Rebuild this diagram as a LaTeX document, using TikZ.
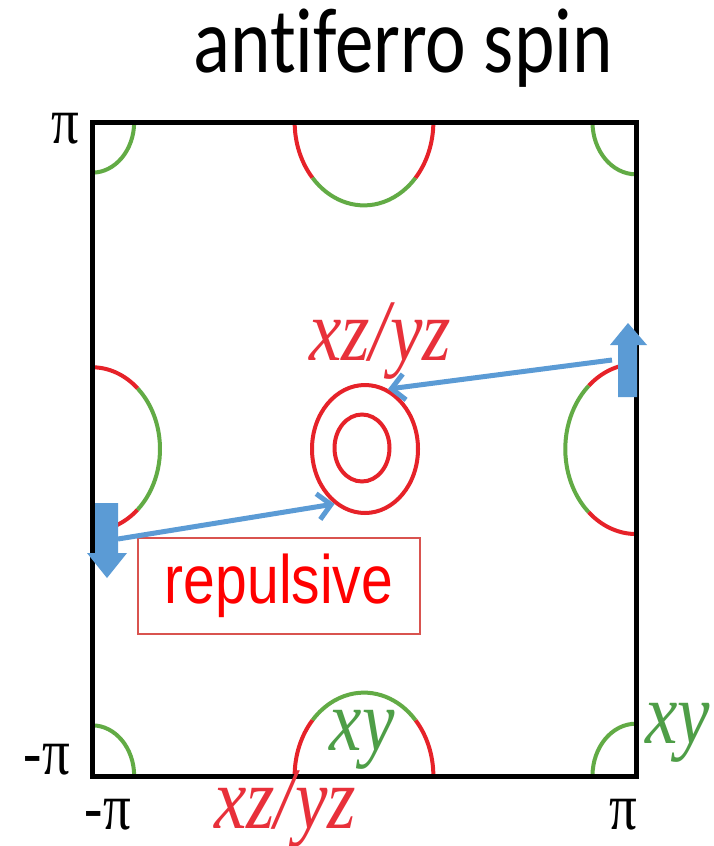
\documentclass[tikz,border=0pt]{standalone}
\usepackage{fontspec}
\setmainfont{Liberation Serif}
\newfontfamily\titlefont{Carlito}[Ligatures=NoCommon]
\newfontfamily\repfont{Liberation Sans}
\usetikzlibrary{arrows.meta,shapes.geometric}
\definecolor{bandred}{HTML}{E62229}
\definecolor{bandgreen}{HTML}{62AB45}
\definecolor{spinblue}{HTML}{5B9BD5}
\definecolor{boxred}{HTML}{D9534F}
\definecolor{labred}{HTML}{E8303A}
\definecolor{labgreen}{HTML}{4E9E47}
\newcommand{\vstretch}[1]{\scalebox{1}[1.2]{#1}}
\tikzset{
  bzline/.style  = {line width=5pt, draw=black},
  band/.style    = {line width=4pt},
  pocket/.style  = {draw=bandred, ellipse, line width=4pt, inner sep=0pt},
  spin/.style    = {fill=spinblue, draw=none},
  link/.style    = {-{Straight Barb[length=13pt,width=26pt]}, line width=5pt, draw=spinblue},
  pilbl/.style   = {font=\fontsize{55}{58}\selectfont, inner sep=0pt},
  orblbl/.style  = {font=\fontsize{73}{76}\selectfont\itshape, inner sep=0pt},
  replbl/.style  = {draw=boxred, line width=1.5pt, text=red, font=\repfont\fontsize{57}{60}\selectfont,
                    minimum width=282pt, minimum height=96pt, inner sep=0pt},
}
\begin{document}
\begin{tikzpicture}[x=1pt, y=-1pt]
  \useasboundingbox[fill=white] (0,0) rectangle (713,846);

  % title
  \node[anchor=base west, font=\titlefont\fontsize{77}{80}\selectfont] (title) at (190,72) {\vstretch{ant\kern0pt iferro spin}};

  % Brillouin zone and Fermi pockets
  \begin{scope}[shift={(364,449)}, x=272pt, y=327pt]
    \foreach \cx/\cy/\a/\b/\r/\col in {
      0/1/180/222/0.255/bandred, 0/1/222/318/0.255/bandgreen, 0/1/318/360/0.255/bandred,
      0/-1/0/42/0.255/bandred, 0/-1/42/138/0.255/bandgreen, 0/-1/138/180/0.255/bandred,
      -1/0/-90/-48/0.25/bandred, -1/0/-48/48/0.25/bandgreen, -1/0/48/90/0.25/bandred,
      1/0/90/132/0.26/bandred, 1/0/132/228/0.26/bandgreen, 1/0/228/270/0.26/bandred,
      -1/1/270/360/0.155/bandgreen, 1/1/180/270/0.16/bandgreen,
      -1/-1/0/90/0.155/bandgreen, 1/-1/90/180/0.16/bandgreen}
      \draw[band, draw=\col] (\cx,\cy) ++(\a:\r) arc[start angle=\a, end angle=\b, radius=\r];
    \draw[bzline] (-1,-1) rectangle (1,1);
  \end{scope}

  % hole pockets at the zone centre
  \node[pocket, minimum width=106pt, minimum height=128pt] (ring) at (365,449) {};
  \node[pocket, minimum width=55pt, minimum height=67pt] (core) at (362,448) {};

  % axis labels
  \node[pilbl] (ymax) at (65,129) {\vstretch{π}};
  \node[pilbl] (ymin) at (47,760) {\vstretch{-π}};
  \node[pilbl] (xmin) at (108,815) {\vstretch{-π}};
  \node[pilbl] (xmax) at (623,815) {\vstretch{π}};

  % orbital labels
  \node[orblbl, text=labred, anchor=base] (xzTop) at (380,360) {\vstretch{xz/yz}};
  \node[orblbl, text=labred, anchor=base] (xzBot) at (285,828) {\vstretch{xz/yz}};
  \node[orblbl, text=labgreen, anchor=base] (xyBot) at (362,750) {\vstretch{xy}};
  \node[orblbl, text=labgreen, anchor=base west] (xyR) at (645,743) {\vstretch{xy}};

  \node[replbl] (rep) at (279,586) {\vstretch{repulsive}};

  % antiferro spins
  \fill[spin] (95,503) -- (118,503) -- (118,553) -- (127,553) -- (107,578) -- (87,553) -- (95,553) -- cycle;
  \fill[spin] (618,397) -- (637,397) -- (637,345) -- (647,345) -- (628,323) -- (610,345) -- (618,345) -- cycle;
  \coordinate (spinL) at (118,539);
  \coordinate (spinR) at (612,360);

  \draw[link] (spinL) -- (ring.241);
  \draw[link] (spinR) -- (ring.69);
\end{tikzpicture}
\end{document}
